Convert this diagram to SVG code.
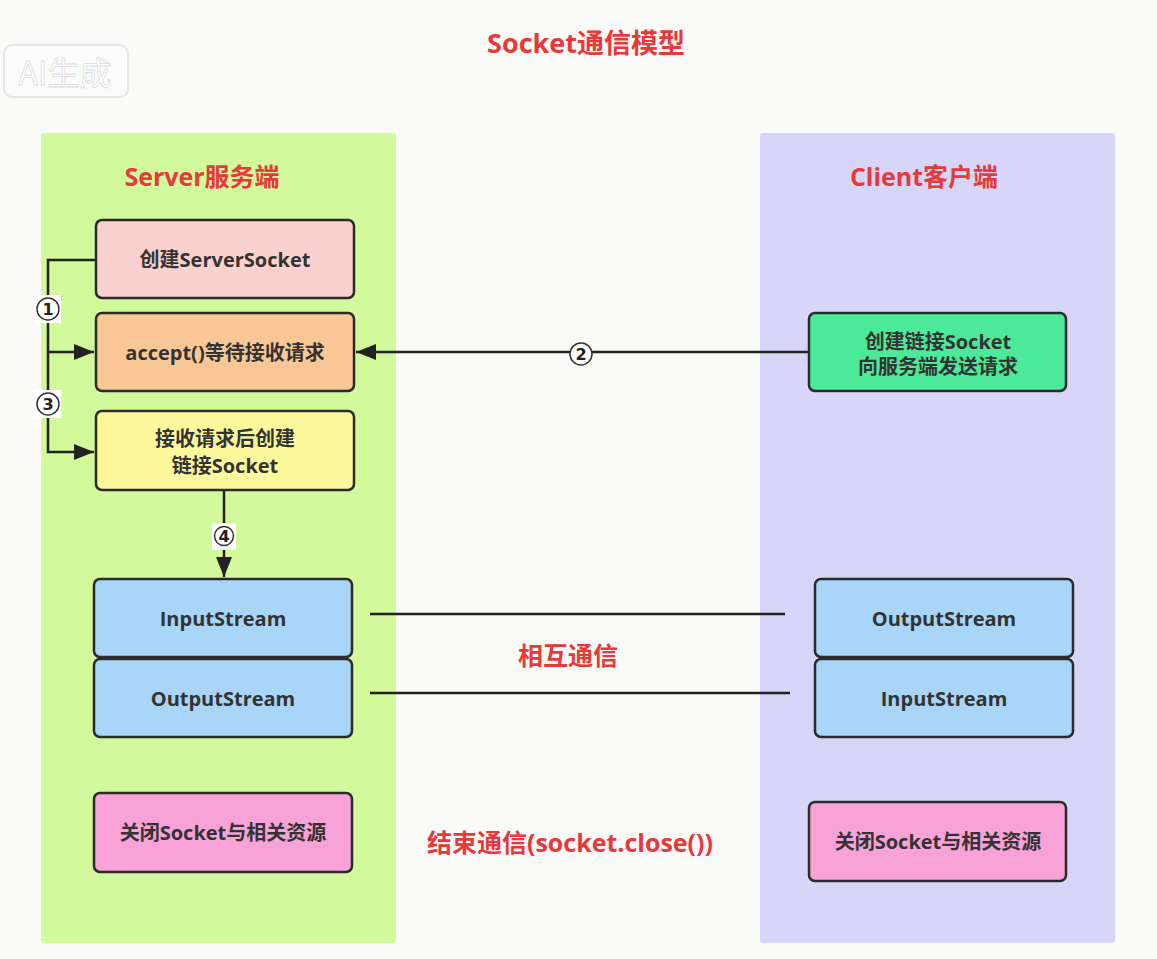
<svg xmlns="http://www.w3.org/2000/svg" width="1157" height="959" viewBox="0 0 1157 959">
<defs>
<style>
.box{stroke:#2b2b2b;stroke-width:2.5}
.t{font-family:"Open Sans","Noto Sans CJK SC",sans-serif;font-weight:700;font-size:20px;fill:#333;text-anchor:middle;dominant-baseline:central}
.red{font-family:"Open Sans","Noto Sans CJK SC",sans-serif;font-weight:700;fill:#e8393a;text-anchor:middle;dominant-baseline:central}
.ln{stroke:#222;stroke-width:2.5;fill:none}
.num{font-family:"DejaVu Sans",sans-serif;font-size:16px;font-weight:700;fill:#222;text-anchor:middle;dominant-baseline:central}
.nc{fill:#fff;stroke:#333;stroke-width:1.5}
</style>
<marker id="a" viewBox="0 0 20 16" refX="20" refY="8" markerWidth="20" markerHeight="16" orient="auto" markerUnits="userSpaceOnUse">
<path d="M0,0 L20,8 L0,16 Z" fill="#222"/>
</marker>
</defs>
<rect width="1157" height="959" fill="#fafaf8"/>
<g id="watermark">
<rect x="4" y="45" width="124" height="52" rx="8" fill="#fbfbfb" stroke="#e6e6e6" stroke-width="2"/>
<text x="65" y="71" style="font-family:'Noto Sans CJK SC',sans-serif;font-size:32px;fill:#fff;stroke:#dcdcdc;stroke-width:0.8;text-anchor:middle;dominant-baseline:central">AI生成</text>
</g>
<text class="red" x="586" y="42" font-size="27">Socket通信模型</text>
<g id="server-panel">
<rect x="41" y="133" width="355" height="810" rx="3" fill="#d2f99c"/>
<text class="red" x="202" y="176" font-size="25">Server服务端</text>
</g>
<g id="client-panel">
<rect x="760" y="133" width="355" height="810" rx="3" fill="#d7d5f8"/>
<text class="red" x="924" y="176" font-size="25">Client客户端</text>
</g>
<g id="connectors">
<polyline class="ln" points="96,260 48,260 48,452 94,452" marker-end="url(#a)"/>
<line class="ln" x1="48" y1="352" x2="94" y2="352" marker-end="url(#a)"/>
<line class="ln" x1="809" y1="352" x2="356" y2="352" marker-end="url(#a)"/>
<line class="ln" x1="224" y1="490" x2="224" y2="577" marker-end="url(#a)"/>
<line class="ln" x1="370" y1="614" x2="785" y2="614" stroke-width="2"/>
<line class="ln" x1="370" y1="693" x2="790" y2="693" stroke-width="2"/>
<rect x="35" y="295" width="26" height="28" fill="#fff"/>
<circle class="nc" cx="48" cy="309" r="11"/><text class="num" x="48" y="309">1</text>
<rect x="35" y="390" width="26" height="28" fill="#fff"/>
<circle class="nc" cx="48" cy="404" r="11"/><text class="num" x="48" y="404">3</text>
<circle class="nc" cx="581" cy="354" r="11"/><text class="num" x="581" y="354">2</text>
<rect x="212" y="523" width="24" height="27" fill="#fff"/>
<circle class="nc" cx="224" cy="536" r="9.5"/><text class="num" x="224" y="536" font-size="13">4</text>
<text class="red" x="568" y="655" font-size="25">相互通信</text>
<text class="red" x="570" y="842" font-size="25">结束通信(socket.close())</text>
</g>
<g id="create-server-socket">
<rect class="box" x="96" y="220" width="258" height="78" rx="6" fill="#fbd1cf"/>
<text class="t" x="225" y="259">创建ServerSocket</text>
</g>
<g id="accept">
<rect class="box" x="96" y="313" width="258" height="78" rx="6" fill="#f9c796"/>
<text class="t" x="225" y="352">accept()等待接收请求</text>
</g>
<g id="create-link-socket">
<rect class="box" x="96" y="411" width="258" height="79" rx="6" fill="#fbf99b"/>
<text class="t" x="225" y="438">接收请求后创建</text>
<text class="t" x="225" y="465">链接Socket</text>
</g>
<g id="server-input">
<rect class="box" x="94" y="579" width="258" height="78" rx="6" fill="#a9d5f9"/>
<text class="t" x="223" y="618">InputStream</text>
</g>
<g id="server-output">
<rect class="box" x="94" y="659" width="258" height="78" rx="6" fill="#a9d5f9"/>
<text class="t" x="223" y="698">OutputStream</text>
</g>
<g id="server-close">
<rect class="box" x="94" y="793" width="258" height="79" rx="6" fill="#f9a2d7"/>
<text class="t" x="223" y="832" font-size="19">关闭Socket与相关资源</text>
</g>
<g id="client-connect">
<rect class="box" x="809" y="313" width="257" height="78" rx="6" fill="#4de99a"/>
<text class="t" x="938" y="341">创建链接Socket</text>
<text class="t" x="938" y="366">向服务端发送请求</text>
</g>
<g id="client-output">
<rect class="box" x="815" y="579" width="258" height="78" rx="6" fill="#a9d5f9"/>
<text class="t" x="944" y="618">OutputStream</text>
</g>
<g id="client-input">
<rect class="box" x="815" y="659" width="258" height="78" rx="6" fill="#a9d5f9"/>
<text class="t" x="944" y="698">InputStream</text>
</g>
<g id="client-close">
<rect class="box" x="809" y="802" width="257" height="79" rx="6" fill="#f9a2d7"/>
<text class="t" x="938" y="841" font-size="19">关闭Socket与相关资源</text>
</g>
</svg>
